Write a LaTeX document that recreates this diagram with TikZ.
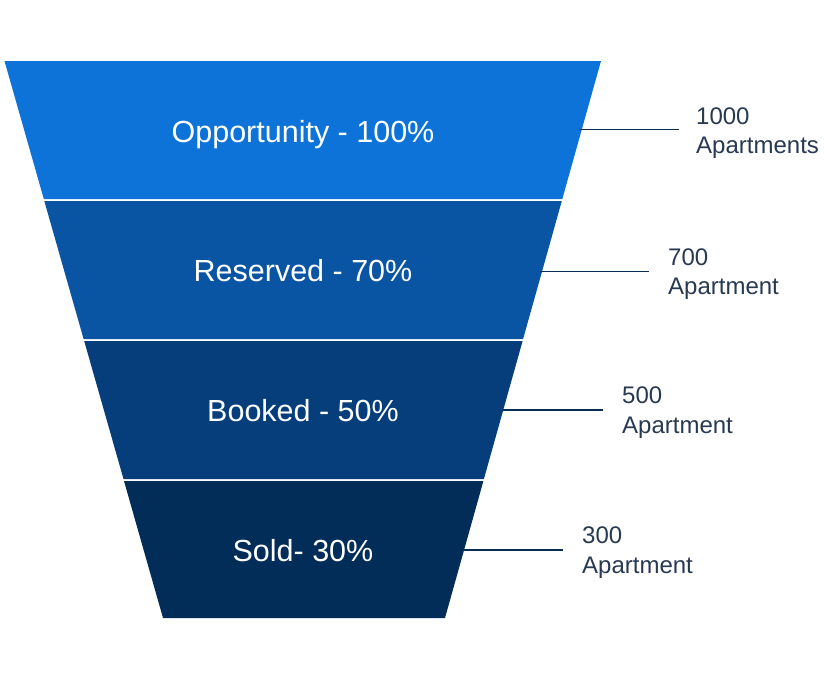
\documentclass[tikz,border=0pt]{standalone}
\usepackage{fontspec}
\setmainfont{Liberation Sans}
\definecolor{bandA}{RGB}{14,115,217}
\definecolor{bandB}{RGB}{9,85,163}
\definecolor{bandC}{RGB}{5,62,123}
\definecolor{bandD}{RGB}{3,45,89}
\definecolor{leader}{RGB}{10,45,85}
\definecolor{sidetext}{RGB}{40,58,82}
\begin{document}
\begin{tikzpicture}[x=1pt,y=-1pt,
  bandlabel/.style={anchor=base,inner sep=0pt,text=white,font=\fontsize{30.5}{36}\selectfont},
  sidelabel/.style={anchor=base west,inner sep=0pt,text=sidetext,font=\fontsize{24}{29}\selectfont},
  leaderline/.style={draw=leader,line width=1.5pt}]
\useasboundingbox (0,0) rectangle (824,680);
\fill[white] (0,0) rectangle (824,680);
% funnel bands
\fill[bandA] (4.5,61) -- (601,61) -- (562.3,199) -- (43.8,199) -- cycle;
\fill[bandB] (44.3,201) -- (561.8,201) -- (523.1,339) -- (83.6,339) -- cycle;
\fill[bandC] (84.2,341) -- (522.6,341) -- (483.9,479) -- (123.5,479) -- cycle;
\fill[bandD] (124.0,481) -- (483.4,481) -- (445.0,618) -- (163.0,618) -- cycle;
% band labels
\node[bandlabel] (l1) at (303,142.5) {Opportunity - 100\%};
\node[bandlabel] (l2) at (303,281.7) {Reserved - 70\%};
\node[bandlabel] (l3) at (303,421) {Booked - 50\%};
\node[bandlabel] (l4) at (303,561) {Sold- 30\%};
% leader coordinates
\coordinate (s1) at (579,129.7); \coordinate (t1) at (679,129.7);
\coordinate (s2) at (540,271.7); \coordinate (t2) at (649,271.7);
\coordinate (s3) at (503,410);   \coordinate (t3) at (603,410);
\coordinate (s4) at (463,550);   \coordinate (t4) at (563,550);
\draw[leaderline] (s1) -- (t1);
\draw[leaderline] (s2) -- (t2);
\draw[leaderline] (s3) -- (t3);
\draw[leaderline] (s4) -- (t4);
% side labels
\node[sidelabel] (n1) at (696,124) {1000};
\node[sidelabel] (u1) at (696,153) {Apartments};
\node[sidelabel] (n2) at (668,265) {700};
\node[sidelabel] (u2) at (668,294.7) {Apartment};
\node[sidelabel] (n3) at (622,403.3) {500};
\node[sidelabel] (u3) at (622,433) {Apartment};
\node[sidelabel] (n4) at (582,543.3) {300};
\node[sidelabel] (u4) at (582,573) {Apartment};
\end{tikzpicture}
\end{document}
